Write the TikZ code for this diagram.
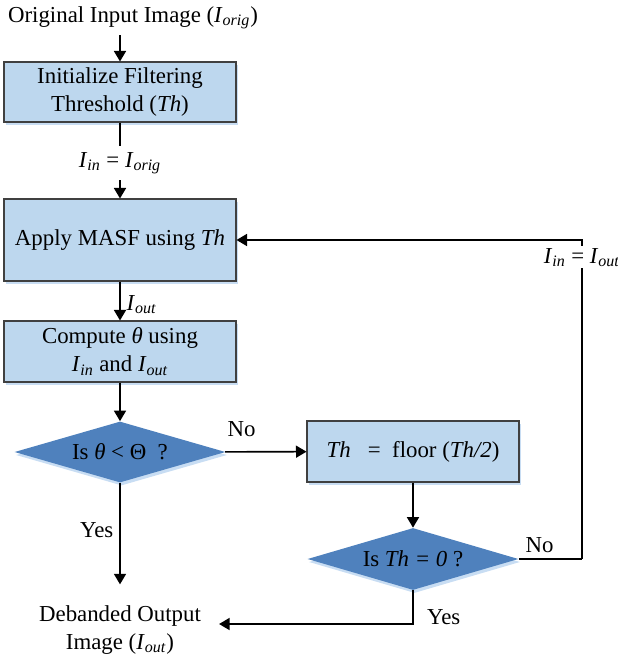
\documentclass[tikz,border=0pt]{standalone}
\usepackage{fontspec}
\setmainfont{Liberation Serif}
\usetikzlibrary{shapes.geometric, arrows.meta, positioning, shadows}
\definecolor{procfill}{RGB}{189,215,238}
\definecolor{decfill}{RGB}{79,129,189}
\definecolor{shadowblue}{RGB}{200,221,243}
\definecolor{boxline}{RGB}{64,64,64}
\newcommand{\Isub}[1]{\textit{I}\textsubscript{\textit{#1}}}

\begin{document}
\begin{tikzpicture}[
    x=0.02cm, y=-0.02cm,
    >={Triangle[length=0.21cm, width=0.24cm]},
    every node/.style={font=\fontsize{13}{16}\selectfont},
    procbox/.style={rectangle, draw=boxline, line width=0.6pt, fill=procfill,
        minimum width=4.64cm, align=center, inner sep=0pt,
        drop shadow={shadow xshift=0.04cm, shadow yshift=-0.06cm,
            fill=shadowblue, opacity=1}},
    decbox/.style={diamond, fill=decfill, aspect=3.46, inner sep=0pt,
        minimum width=4.22cm,
        drop shadow={shadow xshift=0.03cm, shadow yshift=-0.06cm,
            fill=shadowblue, opacity=1}},
    flow/.style={->, line width=0.9pt},
    link/.style={line width=0.9pt},
]
\useasboundingbox (0,0) rectangle (618,656);

% === MAIN COLUMN ===
\node (src) at (133,18) {Original Input Image (\Isub{orig})};
\node[procbox, minimum height=1.2cm] (init) at (120,92)
    {Initialize Filtering\\Threshold (\textit{Th})};
\node (lin) at (120,163) {\Isub{in} = \Isub{orig}};
\node[procbox, minimum height=1.64cm] (masf) at (120,240)
    {Apply MASF using \textit{Th}};
\node[procbox, minimum height=1.22cm] (theta) at (120,351.5)
    {Compute \textit{θ} using\\\Isub{in} and \Isub{out}};
\node[decbox, minimum height=1.22cm] (cmp) at (120,452)
    {Is \textit{θ} < Θ~~?};
\node[align=center] (out) at (120,630) {Debanded Output\\Image (\Isub{out})};

% === RIGHT BRANCH ===
\node[procbox, minimum width=4.24cm, minimum height=1.22cm] (half) at (413,451.5)
    {\textit{Th} \enspace=\enspace floor (\textit{Th/2})};
\node[decbox, minimum height=1.24cm] (zero) at (413,559) {Is \textit{Th = 0} ?};
\coordinate (turn) at (582,559);

% === CONNECTORS ===
\draw[flow] (init.north |- src.south) -- (init);
\draw[link] (init) -- (lin);
\draw[flow] (lin) -- (masf);
\draw[flow] (masf) -- node[right, pos=0.6] {\Isub{out}} (theta);
\draw[flow] (theta) -- (cmp);
\draw[flow] (cmp) -- node[above=5pt, pos=0.2] {No} (half);
\draw[flow, shorten >=0.30cm] (cmp) -- node[left, pos=0.41] {Yes} (out);
\draw[flow] (half) -- (zero);

% loop back
\draw[link] (zero.east) -- node[above, pos=0.33] {No} (turn);
\draw[flow] (turn) |- node[fill=white, inner sep=1pt, pos=0.473] {\Isub{in} = \Isub{out}} (masf);

% exit
\draw[flow, shorten >=0.24cm] (zero) |- node[pos=0.5, anchor=base west, xshift=0.15cm] {Yes} ([yshift=0.12cm]out.east);

\end{tikzpicture}
\end{document}
